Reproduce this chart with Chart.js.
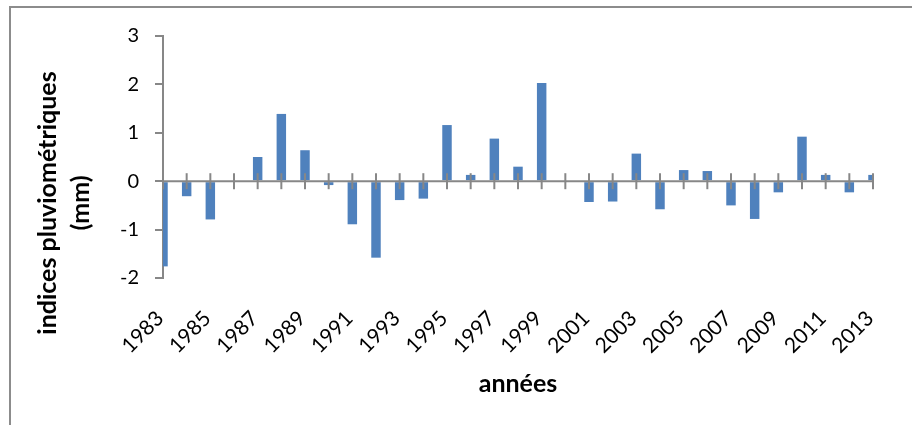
<!DOCTYPE html>
<html>
<head>
<meta charset="utf-8">
<script src="https://cdn.jsdelivr.net/npm/chart.js@4/dist/chart.umd.min.js"></script>
<style>
  html, body { margin: 0; padding: 0; background: #fff; }
  #wrap { width: 912px; height: 425px; position: relative; }
</style>
</head>
<body>
<div id="wrap"><canvas id="c" width="912" height="425"></canvas></div>
<script>
const years = ['1983','1984','1985','1986','1987','1988','1989','1990','1991','1992',
  '1993','1994','1995','1996','1997','1998','1999','2000','2001','2002',
  '2003','2004','2005','2006','2007','2008','2009','2010','2011','2012','2013'];
const indices = [-1.76, -0.31, -0.79, null, 0.50, 1.39, 0.64, -0.08, -0.89, -1.58,
  -0.39, -0.36, 1.16, 0.13, 0.88, 0.30, 2.03, null, -0.43, -0.42,
  0.57, -0.58, 0.23, 0.21, -0.50, -0.78, -0.23, 0.92, 0.13, -0.23, 0.13];
const yTicks = [-2, -1, 0, 1, 2, 3];
const yTitleLines = ['indices pluviométriques', '(mm)'];
const xTitle = 'années';

const AXIS = '#878787';

const decor = {
  id: 'decor',
  afterDatasetsDraw(chart) {
    const ctx = chart.ctx;
    const xs = chart.scales.x, ys = chart.scales.y;
    const y0 = ys.getPixelForValue(0);
    ctx.save();
    ctx.strokeStyle = AXIS;
    ctx.lineWidth = 2;
    ctx.beginPath();
    ctx.moveTo(chart.chartArea.left, y0);
    ctx.lineTo(chart.chartArea.right, y0);
    ctx.stroke();
    for (let i = 0; i < years.length; i++) {
      const x = xs.getPixelForValue(i);
      ctx.beginPath();
      ctx.moveTo(x, y0 - 8);
      ctx.lineTo(x, y0 + 8);
      ctx.stroke();
    }
    ctx.restore();
  },
  afterDraw(chart) {
    const ctx = chart.ctx;
    ctx.save();
    ctx.strokeStyle = '#8c8c8c';
    ctx.lineWidth = 2;
    ctx.beginPath();
    ctx.moveTo(10, 425);
    ctx.lineTo(10, 7);
    ctx.lineTo(912, 7);
    ctx.stroke();
    ctx.fillStyle = '#000';
    ctx.font = 'bold 25px Lato';
    ctx.textAlign = 'center';
    ctx.textBaseline = 'middle';
    ctx.translate(0, 203);
    ctx.rotate(-Math.PI / 2);
    ctx.fillText(yTitleLines[0], 0, 48);
    ctx.fillText(yTitleLines[1], 0, 81);
    ctx.restore();
    ctx.save();
    ctx.fillStyle = '#000';
    ctx.font = 'bold 25px Lato';
    ctx.textAlign = 'center';
    ctx.textBaseline = 'alphabetic';
    ctx.fillText(xTitle, 518, 392);
    ctx.restore();
  }
};

new Chart(document.getElementById('c'), {
  type: 'bar',
  data: {
    labels: years,
    datasets: [{
      data: indices,
      backgroundColor: '#4F81BD',
      borderWidth: 0,
      categoryPercentage: 1,
      barPercentage: 0.4
    }]
  },
  options: {
    responsive: false,
    animation: false,
    devicePixelRatio: 1,
    layout: { padding: { left: 0, right: 39, top: 36, bottom: 0 } },
    plugins: { legend: { display: false }, tooltip: { enabled: false } },
    scales: {
      x: {
        offset: false,
        grid: { display: false, offset: false },
        border: { display: false },
        ticks: {
          autoSkip: false,
          maxRotation: 45,
          minRotation: 45,
          padding: 20,
          labelOffset: -3,
          color: '#000',
          font: { family: 'Lato', size: 21 },
          callback: function (v, i) { return i % 2 === 0 ? years[i] : ''; }
        },
        afterFit: s => { s.height = 147; }
      },
      y: {
        min: -2,
        max: 3,
        afterBuildTicks: s => { s.ticks = yTicks.map(v => ({ value: v })); },
        grid: {
          drawOnChartArea: false,
          drawTicks: true,
          tickLength: 8,
          tickColor: AXIS,
          tickWidth: 2,
          color: AXIS,
          lineWidth: 2
        },
        border: { display: true, color: AXIS, width: 2 },
        ticks: {
          padding: 16,
          color: '#000',
          font: { family: 'Lato', size: 20 }
        },
        afterFit: s => { s.width = 163; }
      }
    }
  },
  plugins: [decor]
});
</script>
</body>
</html>
